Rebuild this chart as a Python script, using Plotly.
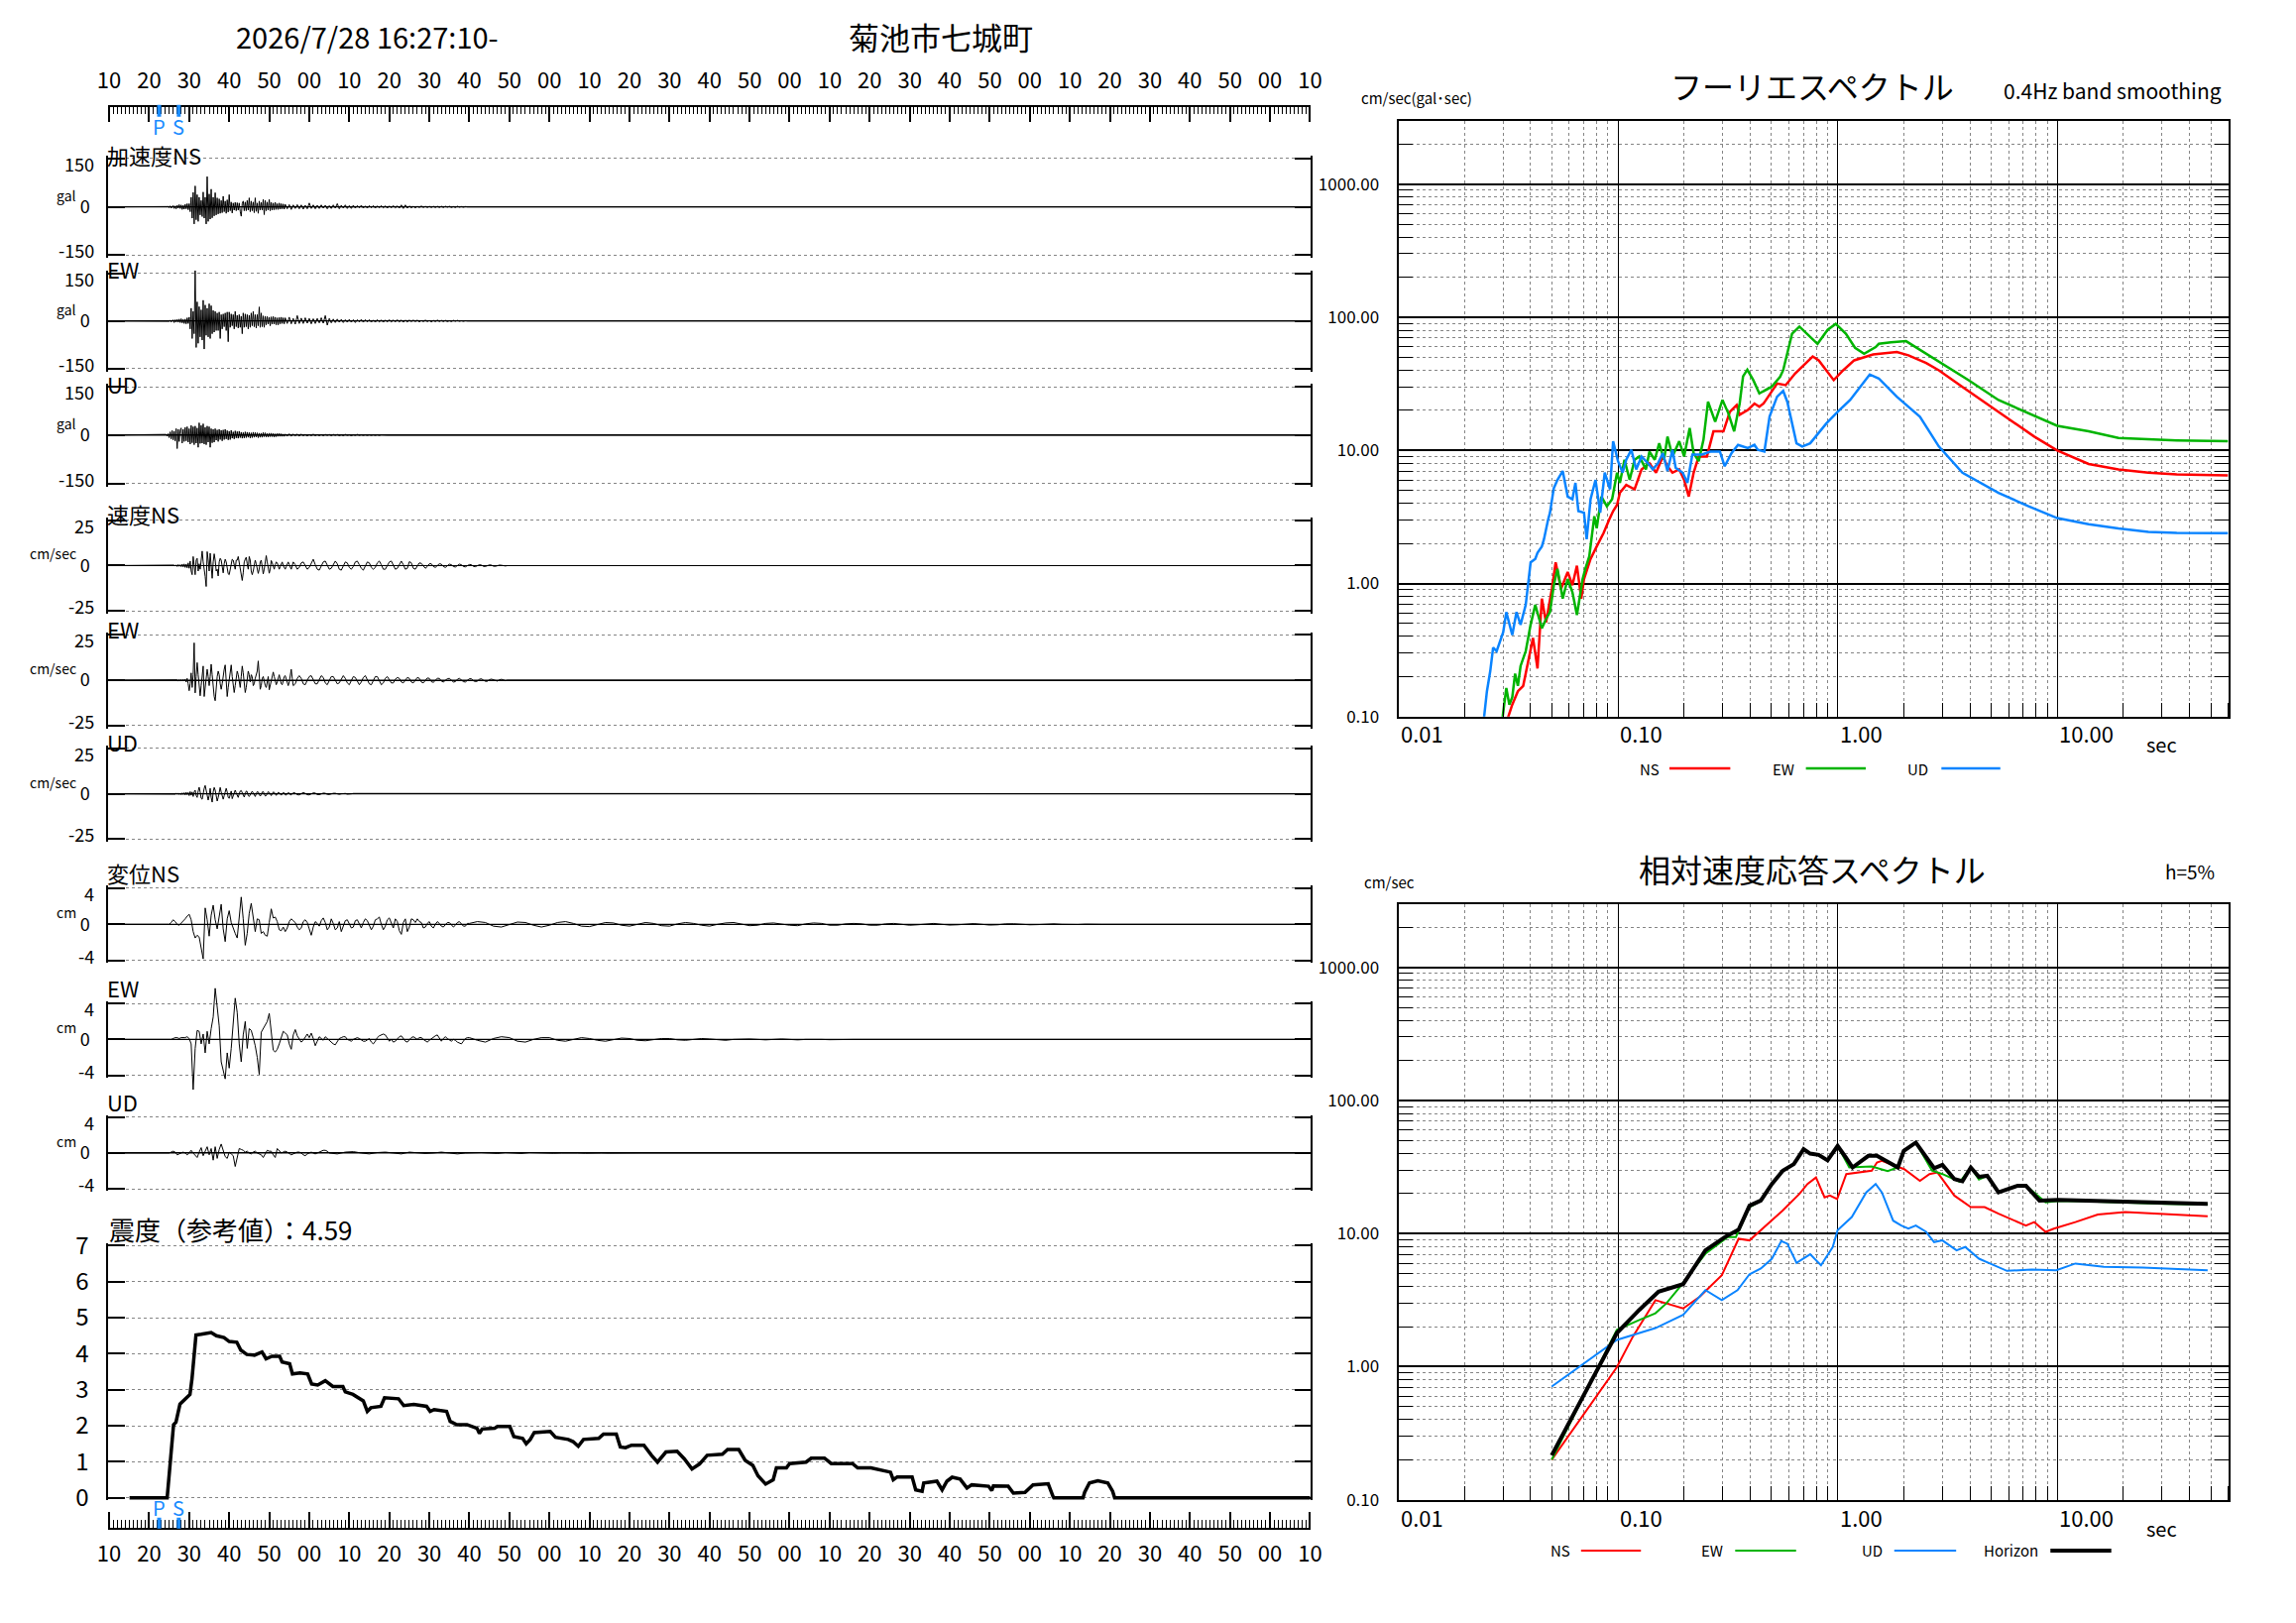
import math
import plotly.graph_objects as go

W, H = 2316, 1637
FONT = "Noto Sans CJK JP, Noto Sans, sans-serif"
RED, GREEN, BLUE, PSBLUE = "#ff0000", "#00b400", "#0a84ff", "#1a8cff"
GRID = "#858585"


def px(x):
    return x / W


def py(y):
    # vertical layout positions were measured on a slightly squeezed scale; stretch them back
    return 1 - (1.0238 * y - 22.3) / H


# ---------------- waveform records ----------------
# acceleration [gal]: main part every 0.25 s from 24 s, tail every 0.5 s from 54 s
acc_ns_main = [0, 1, -1, 1, -2, 3, -4, 2, 4, -5, 3, -6, 5, -4, 7, -5, 6, -8, 5, -7, 8, -6, 10, -9,
               10, -15, 30, -35, 45, -53, 65, -40, 38, -45, 30, -25, 20, -30, 46, -35, 30, -53, 94, -45,
               40, -38, 55, -34, 30, -28, 44, -25, 28, -22, 25, -20, 20, -18, 33, -15, 18, -20, 22, -16,
               38, -12, 15, -19, 12, -10, 14, -12, 13, -10, 12, -14, -29, 10, 18, -12, 15, -12, 20, -10,
               28, -15, 18, -12, 15, -18, 28, -14, 12, -20, 18, -10, 14, -10, 23, -24, 20, -12, 15, -10,
               23, -12, 14, -10, 12, -9, 14, -8, 10, -8, 12, -7, 10, -6, 9, -7]
acc_ns_tail = [8, -6, 7, -8, 6, -5, 7, -6, 6, -7, 5, -6, 12, -5, 6, -6, 5, -5, 6, -4, 5, -6, 4, -5,
               6, -4, 10, -6, 5, -4, 6, -5, 4, -5, 5, -4, 4, -3, 5, -4, 3, -4, 4, -3, 4, -4, 3, -3,
               4, -3, 3, -4, 3, -3, 4, -3, 3, -4, 6, -5, 6, -4, 3, -3, 2, -3, 2, -2, 3, -2, 2, -2,
               2, -2, 2, -2, 2, -2, 2, -2, 2, -1, 2, -2, 1, -2, 2, -1, 1, -1, 1, 0]
acc_ew_main = [0, 1, -1, 1, -1, 2, -3, 2, 3, -5, 4, -3, 5, -4, 6, -5, 7, -6, 5, -8, 6, -9, 10, -8,
               12, -25, 40, -55, 30, -40, 158, -83, 60, -70, 45, -50, 35, -60, 65, -88, 50, -45, 40, -50,
               54, -55, 48, -40, 33, -35, 30, -30, 25, -30, 28, -55, 20, -25, 22, -18, 25, -30, 28, -65,
               28, -20, 22, -15, 20, -25, 30, -18, 18, -22, 20, -20, 15, -40, 25, -20, 22, -18, 20, -25,
               18, -20, 25, -15, 30, -18, 20, -22, 20, -15, 44, -20, 25, -18, 16, -20, 15, -12, 14, -10,
               12, -15, 13, -10, 14, -10, 12, -12, 10, -12, 11, -9, 12, -8, 10, -9]
acc_ew_tail = [10, -8, 12, -9, 8, -10, 17, -8, 9, -8, 10, -7, 8, -9, 7, -8, 8, -6, 10, -7, 17, -13, 8, -6,
               6, -5, 6, -4, 5, -5, 4, -4, 5, -4, 4, -5, 4, -3, 5, -4, 4, -3, 4, -4, 3, -4, 4, -3,
               3, -4, 3, -3, 4, -3, 3, -3, 4, -3, 3, -4, 3, -3, 3, -2, 3, -2, 3, -3, 2, -2, 3, -2,
               2, -3, 2, -2, 3, -2, 2, -2, 2, -2, 1, -2, 2, -1, 2, -1, 1, -1, 1, 0]
acc_ud_main = [0, 2, -3, 4, -8, 10, -12, 14, -15, 12, -18, 20, -42, 18, -20, 16, 22, -25, 18, -20,
               24, -18, 26, -22, 20, -28, 30, -24, 26, -30, 28, -25, 22, -38, 38, -26, 30, -25, 35, -28,
               24, -30, 28, -22, 26, -38, 20, -24, 18, -22, 20, -16, 16, -20, 18, -14, 15, -18, 16, -14,
               18, -12, 14, -15, 12, -14, 15, -10, 10, -12, 13, -9, 11, -10, 12, -8, 9, -10, 8, -9,
               10, -8, 9, -7, 8, -9, 7, -8, 9, -7, 8, -6, 7, -8, 6, -7, 6, -7, 8, -5,
               7, -6, 5, -6, 6, -5, 6, -5, 5, -6, 4, -5, 5, -4, 5, -4, 4, -4, 3, -4]
acc_ud_tail = [3, -3, 4, -3, 3, -2, 3, -3, 3, -2, 2, -3, 2, -2, 3, -2, 2, -2, 2, -2, 2, -1, 2, -2,
               2, -1, 2, -2, 1, -2, 2, -1, 1, -2, 1, -1, 2, -1, 1, -1, 1, -1, 1, -1, 1, -1, 1, -1,
               1, 0, 1, 0]

# velocity [cm/sec]: main part every 0.25 s from 26 s, tail every 0.5 s from 56 s
vel_ns_main = [0, 0.3, -0.3, 0.4, -0.5, 0.6, -0.4, 0.5, -0.6, 0.8, -0.7, 0.9, -1, 0.8, -1.2, 1.5,
               -1.5, 2.5, -3, -5, 5, -2, -5, 3, 4, -3, 1, -2, 3, 8, 2, -4, -6, -11.5, 7.7, 3,
               -3, 6.8, -2, -7, 2, 6.5, 3, -3, -2, -5.7, 2, 4, 3, -2, -4, 1, 3.5, 2, -2, -4.5,
               -5, -2, 2, 3.5, 3, 1, -2, 3, 3, 5, 2, -3, -6, -8.2, -4, 2, 3.5, 4.6, 1, -2,
               5, 3, -3, -5, -3, 1, 3, 1, -3, -4.3, -2, 2, 3, -1, -4.6, -2, 3, 5.5, 2, -1,
               -4.2, -2, 2.8, 1.5, -1, -2, 0.5, 2, 1.5, -1, -2, -0.5, 1.5, 2, 0, -1.5,
               -2, -0.5, 1.5, 2, 0.5, -1.5, -2, 0]
vel_ns_tail = [2, 0.5, -2, -1, 1.5, 2, -0.5, -2, -1, 1.5, 3.5, 0.5, -2, -2.5, 0, 2,
               2.5, 0, -2, -1.5, 1, 2.5, 1, -2, -2.5, 0, 2, 1.5, -1, -2, -0.5, 2,
               2.5, 0.5, -1.5, -2.5, 0, 2, 1.5, -1, -2, -1, 1.5, 2.5, 0.5, -2, -2, 0,
               2, 2.5, 0, -2, -1.5, 1, 2.5, 0.5, -2, -1.5, 2.2, 1.5, -1.5, -2, 0, 1.5,
               1.2, -0.5, -1.5, -0.5, 1, 1, -0.5, -1, 0, 1, 0.8, -0.5, -1, 0, 0.8, 0.5,
               -0.5, -0.8, 0, 0.8, 0.5, -0.5, -0.7, 0, 0.6, 0.5, -0.4, -0.6, 0, 0.5, 0.3, -0.4,
               -0.5, 0, 0.4, 0.3, -0.3, -0.4, 0, 0.3, 0.2, -0.2, -0.2, 0]
vel_ew_main = [0, 0, 0.2, -0.2, 0.2, -0.3, 0.2, -0.2, 0.3, -0.3, 0.4, -0.5, 0.5, -1, 1, -2,
               -5.8, -2, 4, -4, 3, 20.6, -7, 2, 9.7, 3, -6, -8.6, -3, 4, 7.8, -9, -4, 3, 6, 2,
               -3, 2, 8.8, 3, -5, -9, -11.3, -4, 2, 5, 3, -2, -5, -2, 3, 6, 8.4, 2, -9, -4,
               1, 5, 8.4, 2, -4, -6.8, -3, 2, 5, 3, -2, -4, 2, 7.8, 4, -3, -6.8, -4, 2, 5,
               3, -1, 3, 2, -3, -2, 1, 3, 5, 10.6, 2, -5, -3, 1, 2, -1, -3, -4, -1, 2,
               -5.3, -3, 1, 3, 4.5, 2, -1, -2.5, -1, 1.5, 3, 0.5, -2, -2.5, 0, 2,
               2.5, 1, -1.5, -3, -1, 2, 6, 1]
vel_ew_tail = [-3, -2, 1, 2.5, 1, -2, -2.5, 0, 2, 2.5, 0, -2, -2, 0.5, 2.5, 1.5,
               -1.5, -2.5, -0.5, 2, 2, -0.5, -2, -1.5, 1, 2.5, 1, -1.5, -2.5, 0, 2, 1.5,
               -1, -2.5, -1, 1.5, 2.5, 0.5, -2, -2.5, 0, 2, 2, -0.5, -2.5, -1.5, 1, 2,
               0.5, -1.5, -1.5, 0.5, 1.5, 1, -1, -1.5, 0, 1.5, 1, -1, -1.5, 0, 1.5, 1,
               -1, -1.5, 0, 1.2, 1, -0.8, -1.2, 0, 1, 1, -0.5, -1, -0.3, 0.8, 1, 0,
               -1, -0.8, 0.5, 1, 0.3, -0.8, -1, 0, 0.8, 0.8, -0.3, -0.8, -0.5, 0.5, 0.8, 0,
               -0.6, -0.6, 0.3, 0.6, 0.2, -0.5, -0.5, 0.2, 0.5, 0.2, -0.3, 0]
vel_ud_main = [0, 0.2, -0.2, 0.3, -0.3, 0.4, -0.4, 0.3, -0.5, 0.5, -0.4, 0.6, -0.6, 0.8, -0.5, 0.7,
               -1, 1.2, -0.8, 1, -1.5, 1, 2, -1, -2, 1.5, 3.6, 1, -2.5, -3, 1, 3,
               4.6, 2, -2, -3.5, -1, 3, -2, -4.6, 1, 3.5, 2, -2, -4, -2, 2, 3.5,
               1, -2, -3, -1, 2, 3, 1, -2, -2.5, -1, 1.5, -2.7, -1, 1.5, 2, 0.5,
               -1.5, -2, 0, 1.5, 1.8, 0.5, -1.5, -1.8, 0, 1.5, 1.2, -1, -1.5, -0.5, 1, 1.4,
               0.5, -1, -1.5, 0, 1.2, 1, -0.5, -1.3, -0.5, 1, 1.2, 0, -1.2, -1, 0.5, 1.2,
               0.8, -0.6, -1, 0, 1, 0.8, -0.5, -0.9, 0, 0.8, 0.6, -0.5, -0.8, 0, 0.7, 0.5,
               -0.6, -0.7, 0.2, 0.7, 0.4, -0.5, -0.6, 0]
vel_ud_tail = [0.6, 0.4, -0.5, -0.6, 0.2, 0.7, 0.2, -0.5, -0.6, 0, 0.5, 0.4, -0.4, -0.5, 0, 0.4,
               0.3, -0.3, -0.4, 0, 0.3, 0.3, -0.2, -0.3, 0, 0.3, 0.2, -0.2, -0.3, 0, 0.2, 0.2,
               -0.2, -0.2, 0, 0.2, 0.1, -0.2, -0.1, 0.1, 0.2, 0, -0.1, -0.1, 0.1, 0.1, 0, 0]

# displacement [cm]: main part every 0.5 s from 25 s, tail every 2 s
disp_ns_main = [0.0, 0.2, 0.5, 0.3, 0.0, -0.1, 0.1, 0.3, 0.6, 0.9, 1.1, 0.5, -0.8, -1.5, -1.2, -1.4,
                -2.5, -3.8, 1.8, 0.5, -1.3, 1.0, 2.1, 0.5, -0.5, 1.0, 2.2, -0.5, -1.9, 0.6, 1.5, 0.2,
                -0.5, -1.0, -1.5, 0.5, 3.0, 0.6, -2.3, -1.0, 1.2, 2.3, 0.8, -0.8, 0.6, 0.5, -1.0, -0.8,
                -1.2, -1.3, 0.2, 1.7, 0.7, 0.8, 0.3, -0.6, -0.7, -0.3, -0.8, -0.4, 0.3, 0.6, 0.4, 0.2,
                -0.3, -0.6, -0.4, 0.3, 0.5, 0.2, -0.5, -1.2, -0.3, 0.3, 0.1, -0.2, 0.4, 0.7, 0.2, -0.6,
                -0.3, 0.6, 0.1, -0.6, -0.4, 0.3, -0.8, -0.3, 0.4, 0.5, 0.1, -0.4, -0.3, 0.4, 0.5, 0.0,
                -0.4, 0.2, 0.6, 0.4, -0.2, -0.6, -0.2, 0.5, 0.6, 0.8, 0.0, -0.6, -0.2, 0.5, 0.7, 0.2,
                -0.4, 0.6, 0.3, -0.7, -1.1, 0.2, 0.6, -0.8, -0.3, 0.6, 0.5, 0.2, 0.6, 0.3, 0.2, -0.4,
                -0.3, 0.1, 0.3, -0.2, -0.4, 0.0, 0.3, 0.1, -0.2, -0.3, 0.0, 0.2, 0.2, -0.1, -0.3, -0.1,
                0.2, 0.3, 0.0, -0.2, -0.2, 0.1]
disp_ns_tail = [0.1, 0.3, 0.2, -0.2, -0.3, 0.0, 0.25, 0.2, -0.1, -0.3, -0.1, 0.2, 0.3, 0.1, -0.2, -0.25,
                0.0, 0.2, 0.15, -0.1, -0.2, 0.0, 0.2, 0.1, -0.15, -0.2, 0.05, 0.2, 0.1, -0.1, -0.2, 0.0,
                0.15, 0.2, 0.0, -0.15, -0.1, 0.1, 0.15, 0.0, -0.1, -0.15, 0.05, 0.15, 0.1, -0.1, -0.1, 0.05,
                0.1, 0.05, -0.1, -0.1, 0.05, 0.1, 0.0, -0.1, -0.05, 0.05, 0.1, 0.0, -0.08, -0.05, 0.05, 0.08,
                0.0, -0.08, -0.05, 0.05, 0.06, 0.0, -0.05, -0.03, 0.03, 0.05, 0.0, -0.04, -0.02, 0.02, 0.03, 0.0]
disp_ew_main = [0, 0, 0.1, 0.2, 0.2, 0.1, 0.2, 0.2, 0.2, 0.3,
                0.1, -0.5, -5.6, -1.0, 1.0, 0.9, -0.5, 0.6, -1.5, 0.9,
                -0.5, 1.2, 2.5, 5.7, 3.5, 1.5, -2.5, -3.5, -4.4, -1.5,
                -3.2, -1.0, 2.0, 4.6, 3.0, -0.5, -2.5, 0.5, 2.0, -1.0,
                1.2, 1.0, 0.2, -0.7, -2.0, -3.9, 0.8, 1.2, 1.5, 2.0,
                2.9, 0.5, -1.2, -1.4, -1.1, -0.5, 0.2, 0.9, 0.7, 0.5,
                -0.5, -1.1, 0.5, 1.1, 0.4, 0.0, -0.3, -0.1, 0.3, 0.6,
                0.2, 0.7, 0.1, -0.7, -0.2, 0.3, 0.1, -0.1, 0.3, 0.1,
                -0.2, -0.4, -0.5, -0.6, -0.2, 0.1, 0.2, 0.3, 0.3, 0.0,
                -0.1, -0.2, 0.0, 0.1, 0.2, 0.1, -0.1, -0.2, -0.2, 0.0,
                0.1, -0.3, -0.5, -0.2, 0.2, 0.4, 0.5, 0.6, 0.5, 0.1,
                -0.2, 0.0, -0.3, -0.2, 0.1, 0.3, 0.4, 0.1, -0.2, -0.3,
                0.0, 0.2, 0.3, 0.1, 0.0, 0.2, 0.2, 0.0, -0.2, -0.3,
                -0.1, 0.1, 0.3, 0.4, 0.5, 0.1, -0.2, 0.1, 0.3, 0.1,
                -0.1, -0.2, 0.0, -0.1, -0.3, -0.4, -0.5, -0.2, 0.1, 0.2]
disp_ew_tail = [0.2, -0.1, -0.3, 0.1, 0.3, 0.2, -0.2, -0.3, 0.0, 0.2,
                0.2, -0.1, -0.2, 0.0, 0.2, 0.1, -0.1, -0.2, 0.0, 0.15,
                0.1, -0.1, -0.15, 0.0, 0.1, 0.1, -0.05, -0.1, 0.0, 0.1,
                0.05, -0.05, -0.1, 0.0, 0.05, 0.05, 0.0, -0.05, 0.0, 0.05,
                0.0, -0.05, 0.0, 0.03, 0.0, -0.03, 0.0, 0.02, 0.0, 0.0]
disp_ud_main = [0.0, 0.1, 0.2, 0.1, -0.2, -0.1, 0.0, 0.1, 0.0, -0.2,
                0.0, 0.3, 0.0, -0.3, -0.5, 0.1, 0.6, -0.3, 0.3, 0.7,
                -0.2, 0.5, -0.8, 0.7, -0.6, 0.4, 1.0, 0.4, -0.4, -0.6,
                0.1, -0.1, -0.3, -1.5, -0.5, 0.5, 0.4, 0.3, 0.1, 0.2,
                0.0, -0.1, 0.1, 0.2, 0.0, -0.1, -0.2, -0.5, 0.0, 0.3,
                0.2, 0.2, -0.2, -0.5, 0.5, 0.2, 0.0, 0.1, 0.2, 0.1,
                -0.1, -0.2, -0.1, 0.0, 0.1, 0.1, 0.0, -0.2, -0.3, -0.1,
                0.0, 0.1, 0.0, -0.1, 0.0, 0.1, 0.2, 0.3, 0.3, 0.2]
disp_ud_tail = [0.0, -0.1, 0.1, 0.15, 0.0, -0.1, 0.05, 0.1, 0.0, -0.1,
                0.1, 0.05, -0.05, 0.0, 0.1, 0.0, -0.1, 0.0, 0.05, 0.05,
                0.0, -0.05, 0.05, 0.0, -0.05, 0.05, 0.0, 0.03, -0.03, 0.0,
                0.03, 0.0, -0.03, 0.02, 0.0, -0.02, 0.0, 0.02, 0.0, 0.0]

# seismic intensity (reference value), running
int_t = [15.1, 24.5, 26.1, 26.7, 27.7, 29.0, 30.2, 30.7, 31.7, 33.0, 34.9, 35.5, 36.8, 38.7, 40.0, 41.9,
         42.9, 44.4, 46.3, 48.2, 49.2, 50.7, 52.6, 53.2, 55.1, 55.8, 57.7, 59.6, 60.6, 62.1, 64.0, 65.9,
         68.4, 69.0, 70.9, 72.2, 73.5, 74.5, 75.4, 77.9, 78.8, 82.3, 83.6, 86.1, 89.3, 90.2, 91.2, 94.3,
         95.2, 96.9, 99.4, 101.9, 102.5, 103.2, 106.3, 107.0, 110.1, 111.1, 113.3, 114.2, 115.2, 116.2,
         120.2, 121.5, 124.7, 125.9, 127.2, 128.5, 132.3, 133.5, 136.7, 137.7, 139.0, 140.5, 143.6, 145.5,
         147.0, 149.1, 151.9, 153.7, 155.6, 157.5, 159.4, 163.2, 164.5, 167.3, 168.9, 170.8, 172.1, 174.0,
         175.9, 176.7, 179.2, 180.0, 182.1, 184.1, 185.4, 188.7, 190.4, 195.7, 197.0, 200.3, 205.2, 205.9,
         206.9, 210.6, 211.5, 213.1, 213.5, 216.8, 218.1, 219.3, 220.6, 222.6, 224.3, 225.5, 229.7, 230.5,
         230.9, 234.6, 235.9, 238.8, 240.8, 244.6, 245.8, 246.0, 253.3, 253.7, 254.9, 257.0, 259.5, 260.7,
         261.2, 310.0]
int_v = [0, 0, 2.03, 2.1, 2.6, 2.73, 2.87, 3.3, 4.52, 4.54, 4.57, 4.59, 4.5, 4.45, 4.34, 4.32,
         4.1, 3.98, 3.96, 4.05, 3.86, 3.93, 3.93, 3.77, 3.72, 3.44, 3.47, 3.44, 3.16, 3.13, 3.25, 3.09,
         3.09, 2.94, 2.87, 2.78, 2.69, 2.4, 2.5, 2.54, 2.78, 2.75, 2.56, 2.59, 2.54, 2.4, 2.45, 2.4,
         2.12, 2.03, 2.03, 1.93, 1.79, 1.91, 1.93, 1.98, 1.98, 1.7, 1.65, 1.5, 1.62, 1.81,
         1.84, 1.68, 1.62, 1.56, 1.43, 1.62, 1.65, 1.77, 1.77, 1.41, 1.39, 1.46, 1.46, 1.18,
         0.99, 1.27, 1.29, 1.08, 0.8, 0.94, 1.18, 1.21, 1.34, 1.34, 1.04, 0.9, 0.61, 0.38,
         0.5, 0.83, 0.83, 0.95, 0.97, 0.99, 1.1, 1.1, 0.95, 0.95, 0.83, 0.83, 0.71, 0.5,
         0.58, 0.58, 0.22, 0.18, 0.41, 0.46, 0.22, 0.46, 0.57, 0.52, 0.27, 0.36, 0.32, 0.2,
         0.33, 0.32, 0.13, 0.15, 0.36, 0.39, 0.04, 0, 0, 0.15, 0.41, 0.47, 0.41, 0.18,
         0, 0]
intensity_max = 4.59
p_time, s_time = 22.5, 27.4

time_ticks = list(range(10, 311, 10))
time_labels = ["10", "20", "30", "40", "50", "00", "10", "20", "30", "40", "50", "00",
               "10", "20", "30", "40", "50", "00", "10", "20", "30", "40", "50", "00",
               "10", "20", "30", "40", "50", "00", "10"]

# ---------------- Fourier spectra (0.4 Hz band smoothing) ----------------
four_ns_t = [0.031, 0.033, 0.035, 0.037, 0.039, 0.041, 0.043, 0.045, 0.047, 0.050, 0.052, 0.055, 0.059, 0.062,
             0.065, 0.068, 0.070, 0.075, 0.080, 0.086, 0.091, 0.095, 0.099, 0.102, 0.109, 0.119, 0.128, 0.139,
             0.149, 0.160, 0.168, 0.177, 0.190, 0.200, 0.210, 0.221, 0.233, 0.254, 0.272, 0.302, 0.323, 0.347,
             0.358, 0.390, 0.418, 0.440, 0.460, 0.530, 0.580, 0.640, 0.770, 0.820, 0.960, 1.06, 1.19, 1.45,
             1.86, 2.10, 2.53, 2.89, 3.70, 4.76, 6.10, 7.86, 10.0, 13.9, 19.0, 26.0, 35.0, 60.0]
four_ns_v = [0.09, 0.123, 0.155, 0.17, 0.26, 0.39, 0.23, 0.77, 0.51, 0.91, 1.44, 0.91, 1.22, 0.97,
             1.36, 0.77, 1.08, 1.53, 1.9, 2.4, 3.0, 3.5, 3.9, 4.8, 5.5, 5.1, 7.2, 8.0,
             6.8, 9.0, 7.6, 6.8, 7.2, 6.0, 4.5, 6.8, 9.0, 9.0, 13.9, 13.9, 19.5, 21.9,
             18.5, 20.1, 22.5, 21.3, 22.5, 31.8, 30.9, 37.8, 50.8, 47.5, 33.7, 40.0, 47.5, 52.6,
             54.8, 51.8, 45.4, 40.0, 30.0, 22.5, 16.9, 12.7, 10.0, 7.9, 7.2, 6.8, 6.6, 6.5]
four_ew_t = [0.0296, 0.031, 0.032, 0.033, 0.034, 0.035, 0.036, 0.038, 0.040, 0.042, 0.045, 0.047, 0.049, 0.051,
             0.053, 0.056, 0.059, 0.062, 0.065, 0.069, 0.071, 0.074, 0.078, 0.080, 0.084, 0.089, 0.094, 0.099,
             0.102, 0.107, 0.113, 0.119, 0.125, 0.134, 0.139, 0.147, 0.154, 0.162, 0.168, 0.177, 0.190, 0.200,
             0.212, 0.221, 0.233, 0.245, 0.257, 0.277, 0.299, 0.318, 0.338, 0.358, 0.371, 0.388, 0.413, 0.440,
             0.500, 0.547, 0.565, 0.620, 0.670, 0.750, 0.810, 0.900, 0.980, 1.09, 1.20, 1.32, 1.49, 1.54,
             1.75, 2.05, 2.39, 2.89, 3.95, 5.40, 7.40, 10.0, 13.9, 19.0, 35.0, 60.0]
four_ew_v = [0.09, 0.164, 0.123, 0.14, 0.21, 0.17, 0.24, 0.31, 0.49, 0.69, 0.46, 0.54, 0.61, 0.97,
             1.29, 0.77, 1.08, 0.86, 0.58, 1.08, 1.29, 1.6, 3.2, 2.6, 4.5, 3.8, 4.3, 6.8,
             5.7, 8.5, 6.0, 8.5, 9.0, 7.2, 9.8, 8.5, 11.3, 8.5, 12.7, 9.0, 11.7, 9.0,
             14.7, 9.5, 8.3, 12.0, 23.2, 16.4, 23.9, 19.0, 13.9, 22.5, 36.0, 40.4, 33.7, 26.8,
             30.0, 35.7, 40.0, 75.2, 85.2, 71.0, 63.2, 80.4, 89.2, 75.2, 59.0, 53.2, 59.7, 63.2,
             65.0, 66.2, 56.4, 46.1, 33.7, 23.9, 19.0, 15.3, 13.9, 12.4, 11.9, 11.7]
four_ud_t = [0.0244, 0.0253, 0.0262, 0.027, 0.028, 0.030, 0.031, 0.033, 0.0345, 0.036, 0.038, 0.040, 0.042, 0.043,
             0.045, 0.046, 0.048, 0.049, 0.051, 0.053, 0.056, 0.059, 0.062, 0.064, 0.066, 0.070, 0.072, 0.075,
             0.079, 0.083, 0.087, 0.092, 0.095, 0.100, 0.105, 0.109, 0.115, 0.121, 0.128, 0.137, 0.144, 0.152,
             0.160, 0.168, 0.177, 0.183, 0.197, 0.207, 0.218, 0.241, 0.263, 0.291, 0.306, 0.329, 0.352, 0.390,
             0.418, 0.433, 0.464, 0.490, 0.530, 0.565, 0.590, 0.620, 0.650, 0.690, 0.750, 0.890, 1.00, 1.14,
             1.40, 1.54, 1.86, 2.37, 2.89, 3.70, 5.40, 7.40, 10.0, 13.9, 19.0, 26.0, 35.0, 60.0]
four_ud_v = [0.09, 0.155, 0.22, 0.33, 0.31, 0.43, 0.61, 0.41, 0.61, 0.49, 0.69, 1.44, 1.53, 1.7,
             1.9, 2.15, 3.0, 3.4, 5.2, 6.0, 7.0, 4.5, 4.3, 5.7, 3.5, 3.4, 2.15, 4.3,
             6.0, 3.4, 6.8, 5.1, 11.7, 8.3, 6.8, 8.5, 10.1, 7.2, 9.0, 8.0, 7.2, 8.0,
             9.55, 7.0, 10.1, 7.4, 6.8, 5.7, 9.3, 9.3, 9.8, 9.8, 7.6, 9.55, 11.0, 10.4,
             11.0, 10.1, 9.8, 18.0, 25.3, 28.0, 23.2, 16.0, 11.3, 10.7, 11.3, 16.0, 19.5, 23.9,
             37.2, 34.7, 25.3, 17.9, 10.7, 6.8, 4.8, 3.8, 3.1, 2.79, 2.59, 2.44, 2.4, 2.39]

# ---------------- relative velocity response spectra (h=5%) ----------------
resp_ns_t = [0.0499, 0.0988, 0.117, 0.148, 0.198, 0.236, 0.297, 0.354, 0.397, 0.473, 0.562, 0.670, 0.729, 0.797,
             0.872, 0.922, 0.995, 1.095, 1.23, 1.43, 1.51, 1.59, 2.01, 2.37, 2.62, 2.85, 3.40, 4.04,
             4.67, 5.4, 7.2, 7.86, 8.85, 9.65, 12.1, 15.3, 20.4, 28.8, 36.3, 48.4]
resp_ns_v = [0.20, 0.99, 1.69, 3.16, 2.74, 3.36, 4.87, 9.14, 8.89, 11.5, 14.9, 19.9, 23.6, 26.4,
             18.7, 19.3, 18.2, 28.0, 28.8, 29.7, 34.2, 35.2, 30.5, 24.9, 28.0, 28.8, 19.3, 15.8,
             15.8, 14.1, 11.5, 12.2, 10.3, 10.9, 12.2, 13.9, 14.5, 14.1, 13.8, 13.5]
resp_ew_t = [0.0499, 0.0988, 0.125, 0.148, 0.166, 0.192, 0.25, 0.315, 0.344, 0.397, 0.447, 0.502, 0.563, 0.632,
             0.70, 0.75, 0.82, 0.90, 1.0, 1.13, 1.43, 1.69, 1.88, 2.0, 2.27, 2.69, 3.0, 3.6,
             4.04, 4.4, 4.8, 5.4, 6.6, 7.2, 8.85, 10.1, 12.9, 17.2, 23.1, 30.9, 48.4]
resp_ew_v = [0.20, 1.89, 2.24, 2.52, 2.99, 4.0, 7.06, 9.4, 9.4, 15.8, 17.7, 23.6, 29.7, 33.3,
             43.1, 39.9, 39.0, 35.5, 45.6, 31.4, 32.0, 29.5, 31.4, 41.8, 48.3, 29.7, 28.0, 24.5,
             31.4, 25.5, 27.2, 20.4, 22.9, 22.9, 17.2, 17.6, 17.5, 17.2, 16.9, 16.7, 16.5]
resp_ud_t = [0.0499, 0.0988, 0.117, 0.148, 0.198, 0.25, 0.297, 0.35, 0.397, 0.447, 0.502, 0.554, 0.59, 0.65,
             0.75, 0.84, 0.95, 1.0, 1.16, 1.35, 1.49, 1.59, 1.79, 1.95, 2.1, 2.27, 2.53, 2.75,
             3.0, 3.48, 3.81, 4.4, 4.94, 5.9, 7.64, 9.9, 12.1, 16.3, 24.5, 34.9, 48.4]
resp_ud_v = [0.71, 1.59, 1.73, 1.95, 2.45, 3.76, 3.16, 3.76, 4.95, 5.46, 6.48, 8.79, 8.4, 6.03,
             6.99, 5.78, 7.93, 10.6, 13.3, 20.4, 23.6, 20.4, 12.5, 11.5, 10.9, 11.5, 10.3, 8.63,
             8.89, 7.48, 7.93, 6.48, 5.96, 5.25, 5.37, 5.31, 5.96, 5.62, 5.56, 5.46, 5.31]
resp_h_t = [0.0499, 0.0988, 0.125, 0.153, 0.198, 0.25, 0.306, 0.354, 0.397, 0.447, 0.502, 0.563, 0.632, 0.70,
            0.75, 0.82, 0.90, 1.0, 1.09, 1.17, 1.38, 1.51, 1.88, 2.0, 2.27, 2.49, 2.75, 3.0,
            3.4, 3.7, 4.04, 4.4, 4.8, 5.4, 6.6, 7.2, 8.3, 10.1, 12.9, 17.2, 23.1, 30.9, 48.4]
resp_h_v = [0.216, 1.79, 2.67, 3.66, 4.17, 7.48, 9.4, 10.7, 16.2, 17.7, 23.6, 29.7, 33.3, 43.1,
            39.9, 39.0, 35.5, 45.6, 37.3, 31.4, 38.4, 38.4, 31.4, 41.8, 48.3, 39.5, 31.0, 32.9,
            25.7, 24.7, 31.4, 26.7, 27.2, 20.4, 22.9, 22.9, 17.7, 17.9, 17.7, 17.4, 17.1, 16.9, 16.7]

spec_ticks = [0.01, 0.1, 1, 10]
spec_tick_labels = ["0.01", "0.10", "1.00", "10.00"]
amp_ticks = [0.1, 1, 10, 100, 1000]
amp_tick_labels = ["0.10", "1.00", "10.00", "100.00", "1000.00"]


def sample_times(t0, dt, vals):
    return [t0 + i * dt for i in range(len(vals))]


# panel: label, unit, full scale, record segments, top/bottom of the +-scale lines (px)
panels = [
    ("加速度NS", "gal", 150, [(24, 0.25, acc_ns_main), (54, 0.5, acc_ns_tail)], 164, 261),
    ("EW", "gal", 150, [(24, 0.25, acc_ew_main), (54, 0.5, acc_ew_tail)], 279, 375),
    ("UD", "gal", 150, [(24, 0.25, acc_ud_main), (54, 0.5, acc_ud_tail)], 393, 490),
    ("速度NS", "cm/sec", 25, [(26, 0.25, vel_ns_main), (56, 0.5, vel_ns_tail)], 527, 618),
    ("EW", "cm/sec", 25, [(26, 0.25, vel_ew_main), (56, 0.5, vel_ew_tail)], 642, 733),
    ("UD", "cm/sec", 25, [(26, 0.25, vel_ud_main), (56, 0.5, vel_ud_tail)], 756, 847),
    ("変位NS", "cm", 4, [(25, 0.5, disp_ns_main), (100, 2, disp_ns_tail)], 896, 969),
    ("EW", "cm", 4, [(25, 0.5, disp_ew_main), (100, 2, disp_ew_tail)], 1012, 1084),
    ("UD", "cm", 4, [(25, 0.5, disp_ud_main), (65, 2, disp_ud_tail)], 1126, 1198),
]

fig = go.Figure()
lay = {}
annotations = []
shapes = []

XL0, XL1 = 99, 1324
T_RANGE = [9.75, 310.25]
ruler = dict(domain=[px(XL0), px(XL1)], range=T_RANGE, anchor="free", showline=True,
             linecolor="black", linewidth=1.5, ticks="inside", ticklen=16, tickwidth=1.5,
             tickcolor="black", tickmode="array", tickvals=time_ticks, ticktext=time_labels,
             tickfont=dict(size=22), showgrid=False, zeroline=False, fixedrange=True,
             minor=dict(tickmode="linear", tick0=10, dtick=1, ticks="inside", ticklen=8,
                        tickwidth=1, tickcolor="black", showgrid=False))
lay["xaxis"] = dict(ruler, side="top", position=py(111), ticklabelstandoff=8)
lay["xaxis2"] = dict(ruler, side="bottom", position=py(1539), ticklabelstandoff=6)

PAD, OVER = 1.06, 1.7
for i, (label, unit, full, segs, top, bot) in enumerate(panels):
    c, h = (top + bot) / 2, (bot - top) / 2
    vis = "yaxis" if i == 0 else f"yaxis{i + 1}"
    vis_id = "y" if i == 0 else f"y{i + 1}"
    hid_n = i + 11
    lay[vis] = dict(domain=[py(c + h * PAD), py(c - h * PAD)], range=[-full * PAD, full * PAD],
                    anchor="x", showline=True, linecolor="black", linewidth=1.5, mirror="ticks",
                    ticks="inside", ticklen=17, tickwidth=1.5, tickcolor="black",
                    tickmode="array", tickvals=[-full, 0, full], ticktext=["", "0", ""],
                    tickfont=dict(size=18), ticklabelstandoff=13, showgrid=True, gridcolor=GRID,
                    griddash="dot", gridwidth=1, zeroline=True, zerolinecolor="black",
                    zerolinewidth=1.2, fixedrange=True)
    lay[f"yaxis{hid_n}"] = dict(domain=[py(c + h * OVER), py(c - h * OVER)],
                                range=[-full * OVER, full * OVER], anchor="x", visible=False,
                                fixedrange=True)
    # zero baseline on the visible scale (also makes plotly draw this panel's frame)
    fig.add_trace(go.Scatter(x=[time_ticks[0], time_ticks[-1]], y=[0, 0], xaxis="x", yaxis=vis_id,
                             mode="lines", line=dict(color="black", width=1.2), hoverinfo="skip"))
    xs, ys = [10], [0]
    for t0, dt, vals in segs:
        xs += sample_times(t0, dt, vals)
        ys += vals
    xs.append(310)
    ys.append(0)
    fig.add_trace(go.Scatter(x=xs, y=ys, xaxis="x", yaxis=f"y{hid_n}", mode="lines",
                             line=dict(color="black", width=1), hoverinfo="skip"))
    # full-scale labels, nudged a little inward so neighbouring panels' labels do not collide
    for txt, yy in ((f"{full}", top + 5), (f"-{full}", bot - 5)):
        annotations.append(dict(x=px(XL0 - 13), y=py(yy), xref="paper", yref="paper", text=txt,
                                xanchor="right", yanchor="middle", showarrow=False, borderpad=0,
                                font=dict(size=18)))
    annotations.append(dict(x=px(XL0 - 3), y=py(c - 52), xref="paper", yref="paper", text=label,
                            xanchor="left", yanchor="middle", showarrow=False,
                            font=dict(size=22)))
    annotations.append(dict(x=px(XL0 - 30), y=py(c - 12), xref="paper", yref="paper", text=unit,
                            xanchor="right", yanchor="middle", showarrow=False,
                            font=dict(size=14)))

# intensity panel
I0, I7 = 1508, 1255
unit_px = (I0 - I7) / 7
lay["yaxis10"] = dict(domain=[py(I0 + 0.06 * unit_px), py(I7 - 0.06 * unit_px)], range=[-0.06, 7.06],
                      anchor="x2", showline=True, linecolor="black", linewidth=1.5, mirror="ticks",
                      ticks="inside", ticklen=17, tickwidth=1.5, tickcolor="black",
                      tickmode="array", tickvals=list(range(8)), tickfont=dict(size=24),
                      ticklabelstandoff=13, showgrid=True, gridcolor=GRID, griddash="dot",
                      zeroline=False, fixedrange=True)
fig.add_trace(go.Scatter(x=int_t, y=int_v, xaxis="x2", yaxis="y10", mode="lines",
                         line=dict(color="black", width=3.5), hoverinfo="skip"))
annotations.append(dict(x=px(XL0 - 1), y=py(1238), xref="paper", yref="paper",
                        text=f"震度（参考値）：{intensity_max:.2f}", xanchor="left",
                        yanchor="middle", showarrow=False, font=dict(size=26)))

# P / S arrival marks on both rulers
for t, name in ((p_time, "P"), (s_time, "S")):
    shapes.append(dict(type="line", xref="x", yref="paper", x0=t, x1=t, y0=py(110), y1=py(122),
                       line=dict(color=PSBLUE, width=4)))
    shapes.append(dict(type="line", xref="x", yref="paper", x0=t, x1=t, y0=py(1539), y1=py(1528),
                       line=dict(color=PSBLUE, width=4)))
    annotations.append(dict(x=t, xref="x", y=py(132), yref="paper", text=name, showarrow=False,
                            xanchor="center", yanchor="middle", borderpad=0,
                            font=dict(size=20, color=PSBLUE)))
    annotations.append(dict(x=t, xref="x", y=py(1518), yref="paper", text=name, showarrow=False,
                            xanchor="center", yanchor="middle", borderpad=0,
                            font=dict(size=20, color=PSBLUE)))

annotations.append(dict(x=px(363), y=py(41), xref="paper", yref="paper", text="2026/7/28 16:27:10-",
                        showarrow=False, xanchor="center", yanchor="middle", font=dict(size=29)))
annotations.append(dict(x=px(947), y=py(41), xref="paper", yref="paper", text="菊池市七城町",
                        showarrow=False, xanchor="center", yanchor="middle", font=dict(size=31)))

# ---------------- spectrum charts ----------------
minor_x = [m * d for d in (0.01, 0.1, 1, 10) for m in range(2, 10) if m * d <= 60]
minor_y = [m * d for d in (0.1, 1, 10, 100, 1000) for m in range(2, 10) if m * d <= 3000]
SX0, SX1 = 1413, 2258


def spec_axes(xname, yname, ytop, ybot):
    xa = dict(type="log", domain=[px(SX0), px(SX1)], range=[-2, math.log10(60)], anchor=yname,
              showline=True, mirror=True, linecolor="black", linewidth=2, tickmode="array",
              tickvals=spec_ticks, showticklabels=False, ticks="", showgrid=True,
              gridcolor="black", gridwidth=1, zeroline=False, fixedrange=True,
              minor=dict(tickmode="array", tickvals=minor_x, ticks="inside", ticklen=14,
                         tickcolor="black", showgrid=True, gridcolor=GRID, griddash="dot",
                         gridwidth=1))
    ya = dict(type="log", domain=[py(ybot), py(ytop)], range=[-1, math.log10(3000)], anchor=xname,
              showline=True, mirror="allticks", linecolor="black", linewidth=2, tickmode="array",
              tickvals=amp_ticks, ticktext=amp_tick_labels, ticks="", tickfont=dict(size=17),
              ticklabelstandoff=14, showgrid=True, gridcolor="black", gridwidth=2,
              zeroline=False, fixedrange=True,
              minor=dict(tickmode="array", tickvals=minor_y, ticks="inside", ticklen=14,
                         tickcolor="black", showgrid=True, gridcolor=GRID, griddash="dot",
                         gridwidth=1))
    return xa, ya


lay["xaxis3"], lay["yaxis20"] = spec_axes("x3", "y20", 126, 724)
lay["xaxis4"], lay["yaxis21"] = spec_axes("x4", "y21", 912, 1510)

for tx, ty, col in ((four_ns_t, four_ns_v, RED), (four_ew_t, four_ew_v, GREEN),
                    (four_ud_t, four_ud_v, BLUE)):
    fig.add_trace(go.Scatter(x=tx, y=ty, xaxis="x3", yaxis="y20", mode="lines",
                             line=dict(color=col, width=2.5), hoverinfo="skip"))
for tx, ty, col, wd in ((resp_ns_t, resp_ns_v, RED, 2), (resp_ew_t, resp_ew_v, GREEN, 2),
                        (resp_ud_t, resp_ud_v, BLUE, 2), (resp_h_t, resp_h_v, "black", 4)):
    fig.add_trace(go.Scatter(x=tx, y=ty, xaxis="x4", yaxis="y21", mode="lines",
                             line=dict(color=col, width=wd), hoverinfo="skip"))

for xname, ylab in (("x3", 740), ("x4", 1527)):
    for v, t in zip(spec_ticks, spec_tick_labels):
        annotations.append(dict(x=math.log10(v), xref=xname, y=py(ylab), yref="paper", text=t,
                                showarrow=False, xanchor="left", yanchor="middle",
                                font=dict(size=22)))

for text, x, y, size, anchor in (
        ("フーリエスペクトル", 1834, 90, 32, "center"),
        ("0.4Hz band smoothing", 2140, 95, 21, "center"),
        ("cm/sec(gal･sec)", 1373, 103, 15, "left"),
        ("sec", 2190, 752, 20, "center"),
        ("相対速度応答スペクトル", 1834, 876, 32, "center"),
        ("h=5%", 2219, 879, 19, "center"),
        ("cm/sec", 1376, 890, 15, "left"),
        ("sec", 2190, 1539, 20, "center")):
    annotations.append(dict(x=px(x), y=py(y), xref="paper", yref="paper", text=text,
                            showarrow=False, xanchor=anchor, yanchor="middle",
                            font=dict(size=size)))

# hand-drawn legends (name then line sample)
for name, tx, l0, l1, yy, col, wd in (
        ("NS", 1681, 1689, 1751, 776, RED, 2.5), ("EW", 1818, 1828, 1889, 776, GREEN, 2.5),
        ("UD", 1955, 1966, 2026, 776, BLUE, 2.5),
        ("NS", 1590, 1599, 1660, 1561, RED, 2), ("EW", 1746, 1756, 1818, 1561, GREEN, 2),
        ("UD", 1908, 1918, 1981, 1561, BLUE, 2), ("Horizon", 2067, 2077, 2139, 1561, "black", 4)):
    annotations.append(dict(x=px(tx), y=py(yy), xref="paper", yref="paper", text=name,
                            showarrow=False, xanchor="right", yanchor="middle",
                            font=dict(size=15)))
    shapes.append(dict(type="line", xref="paper", yref="paper", x0=px(l0), x1=px(l1),
                       y0=py(yy), y1=py(yy), line=dict(color=col, width=wd)))

fig.update_layout(width=W, height=H, margin=dict(l=0, r=0, t=0, b=0), paper_bgcolor="white",
                  plot_bgcolor="rgba(0,0,0,0)", showlegend=False,
                  font=dict(family=FONT, color="black"), annotations=annotations,
                  shapes=shapes, **lay)

fig.write_html("out.html", config={"displayModeBar": False},
               post_script="document.body.style.margin='0';")
